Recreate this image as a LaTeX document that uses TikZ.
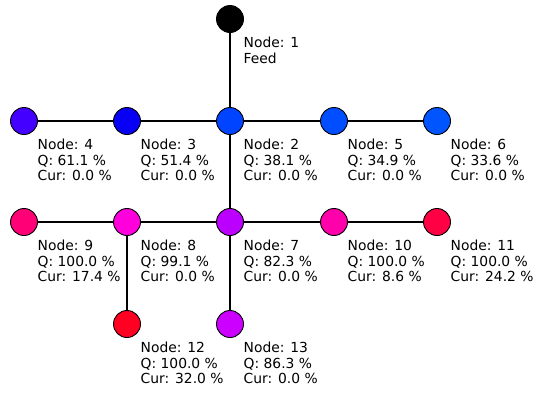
\documentclass[tikz,border=0pt]{standalone}
\usepackage{fontspec}
\setmainfont{DejaVu Sans}
\begin{document}
\begin{tikzpicture}[x=1pt,y=-1pt,
  dot/.style={circle,draw=black,line width=0.9pt,minimum size=27pt,inner sep=0pt},
  lab/.style={anchor=north west,inner sep=0pt,align=left,font=\fontsize{13.85}{15.3}\selectfont},
  link/.style={draw=black,line width=2pt}]
\useasboundingbox (0,0) rectangle (534,392);
\definecolor{c1}{HTML}{000000}
\definecolor{c2}{HTML}{0044FF}
\definecolor{c3}{HTML}{0800F5}
\definecolor{c4}{HTML}{4400FF}
\definecolor{c5}{HTML}{004EFF}
\definecolor{c6}{HTML}{0055FF}
\definecolor{c7}{HTML}{BB00FF}
\definecolor{c8}{HTML}{FF00DD}
\definecolor{c9}{HTML}{FF0077}
\definecolor{c10}{HTML}{FF00AA}
\definecolor{c11}{HTML}{FF0044}
\definecolor{c12}{HTML}{FF0022}
\definecolor{c13}{HTML}{CC00FF}
% nodes
\node[dot,fill=c1] (n1) at (230,19) {};
\node[dot,fill=c4] (n4) at (24,121) {};
\node[dot,fill=c3] (n3) at (127,121) {};
\node[dot,fill=c2] (n2) at (230,121) {};
\node[dot,fill=c5] (n5) at (334,121) {};
\node[dot,fill=c6] (n6) at (437,121) {};
\node[dot,fill=c9] (n9) at (24,222) {};
\node[dot,fill=c8] (n8) at (127,222) {};
\node[dot,fill=c7] (n7) at (230,222) {};
\node[dot,fill=c10] (n10) at (334,222) {};
\node[dot,fill=c11] (n11) at (437,222) {};
\node[dot,fill=c12] (n12) at (127,324) {};
\node[dot,fill=c13] (n13) at (230,324) {};
% edges
\draw[link] (n1) -- (n2);
\draw[link] (n4) -- (n3);
\draw[link] (n3) -- (n2);
\draw[link] (n2) -- (n5);
\draw[link] (n5) -- (n6);
\draw[link] (n2) -- (n7);
\draw[link] (n9) -- (n8);
\draw[link] (n8) -- (n7);
\draw[link] (n7) -- (n10);
\draw[link] (n10) -- (n11);
\draw[link] (n8) -- (n12);
\draw[link] (n7) -- (n13);
% labels
\node[lab] (l1) at ([shift={(13.5,18)}]n1.center) {Node: 1\\Feed};
\node[lab] (l4) at ([shift={(13.5,18)}]n4.center) {Node: 4\\Q: 61.1 \%\\Cur: 0.0 \%};
\node[lab] (l3) at ([shift={(13.5,18)}]n3.center) {Node: 3\\Q: 51.4 \%\\Cur: 0.0 \%};
\node[lab] (l2) at ([shift={(13.5,18)}]n2.center) {Node: 2\\Q: 38.1 \%\\Cur: 0.0 \%};
\node[lab] (l5) at ([shift={(13.5,18)}]n5.center) {Node: 5\\Q: 34.9 \%\\Cur: 0.0 \%};
\node[lab] (l6) at ([shift={(13.5,18)}]n6.center) {Node: 6\\Q: 33.6 \%\\Cur: 0.0 \%};
\node[lab] (l9) at ([shift={(13.5,18)}]n9.center) {Node: 9\\Q: 100.0 \%\\Cur: 17.4 \%};
\node[lab] (l8) at ([shift={(13.5,18)}]n8.center) {Node: 8\\Q: 99.1 \%\\Cur: 0.0 \%};
\node[lab] (l7) at ([shift={(13.5,18)}]n7.center) {Node: 7\\Q: 82.3 \%\\Cur: 0.0 \%};
\node[lab] (l10) at ([shift={(13.5,18)}]n10.center) {Node: 10\\Q: 100.0 \%\\Cur: 8.6 \%};
\node[lab] (l11) at ([shift={(13.5,18)}]n11.center) {Node: 11\\Q: 100.0 \%\\Cur: 24.2 \%};
\node[lab] (l12) at ([shift={(13.5,18)}]n12.center) {Node: 12\\Q: 100.0 \%\\Cur: 32.0 \%};
\node[lab] (l13) at ([shift={(13.5,18)}]n13.center) {Node: 13\\Q: 86.3 \%\\Cur: 0.0 \%};
\end{tikzpicture}
\end{document}
